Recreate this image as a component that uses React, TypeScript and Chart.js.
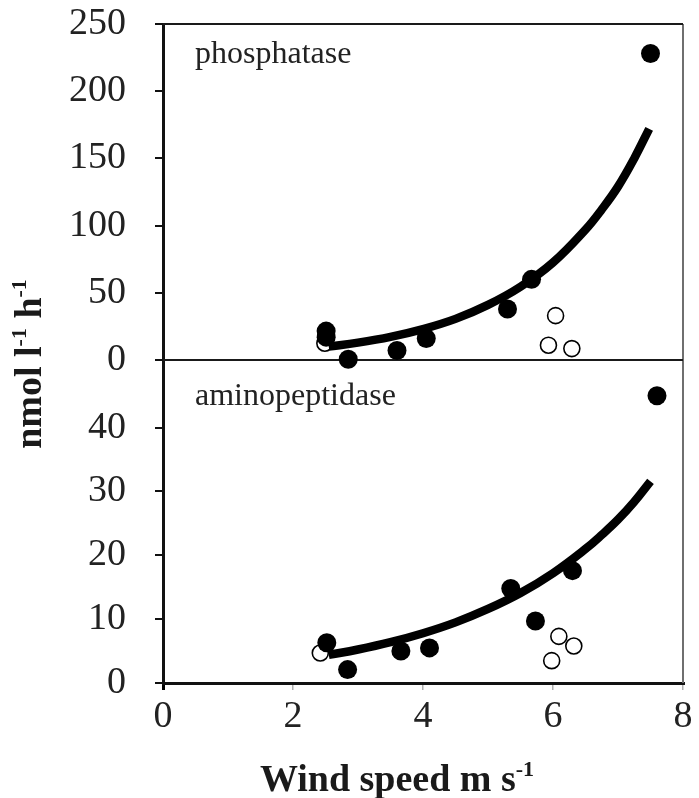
import { useEffect, useRef } from "react";
import { Chart, registerables } from "chart.js";

Chart.register(...registerables);

// ---- data ----
const xTicks = [0, 2, 4, 6, 8];
const phosTicks = [0, 50, 100, 150, 200, 250];
const aminoTicks = [0, 10, 20, 30, 40];

const phosLabel = "phosphatase";
const aminoLabel = "aminopeptidase";

const phosFilledX = [2.51, 2.51, 2.85, 3.6, 4.05, 5.3, 5.67, 7.5];
const phosFilledY = [21.5, 17, 0.5, 7, 16, 38, 60, 228];
const phosOpenX = [2.49, 5.93, 6.04, 6.29];
const phosOpenY = [12.5, 11, 33, 8.5];
const phosFitX = [2.55, 3, 3.5, 4, 4.5, 5, 5.5, 6, 6.5, 6.75, 7, 7.25, 7.48];
const phosFitY = [10, 12.9, 17.2, 23, 30.6, 41, 54.5, 72.5, 97, 112, 129, 150, 172];

const aminoFilledX = [2.52, 2.84, 3.66, 4.1, 5.35, 5.73, 6.3, 7.6];
const aminoFilledY = [6.3, 2.1, 5.0, 5.5, 14.8, 9.7, 17.6, 45];
const aminoOpenX = [2.42, 5.98, 6.09, 6.32];
const aminoOpenY = [4.7, 3.5, 7.3, 5.8];
const aminoFitX = [2.55, 3, 3.5, 4, 4.5, 5, 5.5, 6, 6.5, 6.75, 7, 7.25, 7.5];
const aminoFitY = [4.4, 5.25, 6.4, 7.8, 9.5, 11.6, 14.1, 17.2, 21, 23.2, 25.6, 28.4, 31.6];

const SERIF = '"Liberation Serif", "Times New Roman", serif';

const pts = (xs: number[], ys: number[]) => xs.map((x, i) => ({ x, y: ys[i] }));

function drawRich(
  ctx: CanvasRenderingContext2D,
  segs: [string, boolean][],
  size: number,
  supSize: number,
  supRise: number
) {
  const mainFont = `bold ${size}px ${SERIF}`;
  const supFont = `bold ${supSize}px ${SERIF}`;
  let total = 0;
  for (const [t, sup] of segs) {
    ctx.font = sup ? supFont : mainFont;
    total += ctx.measureText(t).width;
  }
  let x = -total / 2;
  for (const [t, sup] of segs) {
    ctx.font = sup ? supFont : mainFont;
    ctx.fillText(t, x, sup ? -supRise : 0);
    x += ctx.measureText(t).width;
  }
}

const decor = {
  id: "decor",
  beforeDatasetsDraw(chart: any) {
    const { ctx, chartArea } = chart;
    const { left, right, top, bottom } = chartArea;
    const mid = chart.scales.yTop.bottom;
    ctx.save();
    ctx.lineCap = "butt";
    ctx.strokeStyle = "#6f6f6f";
    ctx.lineWidth = 2;
    ctx.beginPath();
    ctx.moveTo(right, top);
    ctx.lineTo(right, bottom);
    ctx.stroke();
    ctx.strokeStyle = "#1a1a1a";
    ctx.lineWidth = 2;
    ctx.beginPath();
    ctx.moveTo(left, top);
    ctx.lineTo(right, top);
    ctx.stroke();
    ctx.beginPath();
    ctx.moveTo(left, mid);
    ctx.lineTo(right, mid);
    ctx.stroke();

    ctx.fillStyle = "#222";
    ctx.font = `32px ${SERIF}`;
    ctx.textBaseline = "alphabetic";
    ctx.textAlign = "left";
    ctx.fillText(phosLabel, left + 32, top + 39);
    ctx.fillText(aminoLabel, left + 32, mid + 45);
    ctx.restore();
  },
  afterDraw(chart: any) {
    const { ctx } = chart;
    const mid = chart.scales.yTop.bottom;
    ctx.save();
    ctx.fillStyle = "#1a1a1a";
    ctx.textBaseline = "alphabetic";
    ctx.textAlign = "left";
    // y title
    ctx.save();
    ctx.translate(41, mid + 4);
    ctx.rotate(-Math.PI / 2);
    drawRich(ctx, [["nmol l", false], ["-1", true], [" h", false], ["-1", true]], 38, 22, 15);
    ctx.restore();
    // x title
    ctx.save();
    ctx.translate(397, 791);
    drawRich(ctx, [["Wind speed m s", false], ["-1", true]], 38, 22, 15);
    ctx.restore();
    ctx.restore();
  },
};

export default function App() {
  const ref = useRef<HTMLCanvasElement>(null);
  useEffect(() => {
    document.body.style.margin = "0";
    const canvas = ref.current!;
    const tickFont = { family: SERIF, size: 38 };
    const filled = (data: any, yAxisID: string) => ({
      type: "scatter" as const,
      data,
      xAxisID: "x",
      yAxisID,
      pointRadius: 9.5,
      pointHoverRadius: 9.5,
      pointBackgroundColor: "#000",
      pointBorderColor: "#000",
      pointBorderWidth: 0,
      showLine: false,
      clip: false as const,
      order: 1,
    });
    const open = (data: any, yAxisID: string) => ({
      type: "scatter" as const,
      data,
      xAxisID: "x",
      yAxisID,
      pointRadius: 8,
      pointHoverRadius: 8,
      pointBackgroundColor: "#fff",
      pointBorderColor: "#000",
      pointBorderWidth: 1.6,
      showLine: false,
      clip: false as const,
      order: 2,
    });
    const fit = (data: any, yAxisID: string) => ({
      type: "line" as const,
      data,
      xAxisID: "x",
      yAxisID,
      borderColor: "#000",
      borderWidth: 8.5,
      pointRadius: 0,
      pointHoverRadius: 0,
      fill: false,
      tension: 0.4,
      borderCapStyle: "butt" as const,
      clip: false as const,
      order: 0,
    });
    const noPad = (s: any) => {
      s.paddingTop = 0;
      s.paddingBottom = 0;
    };

    const chart = new Chart(canvas, {
      type: "scatter",
      data: {
        datasets: [
          filled(pts(phosFilledX, phosFilledY), "yTop"),
          open(pts(phosOpenX, phosOpenY), "yTop"),
          fit(pts(phosFitX, phosFitY), "yTop"),
          filled(pts(aminoFilledX, aminoFilledY), "yBottom"),
          open(pts(aminoOpenX, aminoOpenY), "yBottom"),
          fit(pts(aminoFitX, aminoFitY), "yBottom"),
        ] as any,
      },
      options: {
        responsive: false,
        animation: false,
        devicePixelRatio: 1,
        layout: { padding: { top: 24, right: 16, bottom: 0, left: 0 } },
        plugins: { legend: { display: false }, tooltip: { enabled: false }, title: { display: false } },
        events: [],
        scales: {
          x: {
            type: "linear",
            position: "bottom",
            min: 0,
            max: 8,
            afterBuildTicks: (s: any) => {
              s.ticks = xTicks.map((v) => ({ value: v }));
            },
            afterFit: (s: any) => {
              s.height = 115;
              s.paddingLeft = 0;
              s.paddingRight = 0;
            },
            ticks: { font: tickFont, color: "#222", padding: 4, maxRotation: 0, autoSkip: false },
            grid: {
              drawOnChartArea: false,
              drawTicks: true,
              tickLength: 7,
              color: (c: any) => (c.index === 0 ? "#000" : "#b0b0b0"),
              lineWidth: (c: any) => (c.index === 0 ? 3 : 1.5),
            },
            border: { display: true, color: "#111", width: 3 },
          },
          yBottom: {
            type: "linear",
            position: "left",
            stack: "panels",
            stackWeight: 323,
            min: 0,
            max: 50.6,
            afterBuildTicks: (s: any) => {
              s.ticks = aminoTicks.map((v) => ({ value: v }));
            },
            afterFit: (s: any) => {
              s.width = 163;
              noPad(s);
            },
            ticks: { font: tickFont, color: "#222", padding: 29, autoSkip: false },
            grid: { drawOnChartArea: false, drawTicks: true, tickLength: 8, color: "#111", lineWidth: 2 },
            border: { display: true, color: "#111", width: 3 },
          },
          yTop: {
            type: "linear",
            position: "left",
            stack: "panels",
            stackWeight: 336,
            min: 0,
            max: 250,
            afterBuildTicks: (s: any) => {
              s.ticks = phosTicks.map((v) => ({ value: v }));
            },
            afterFit: (s: any) => {
              s.width = 163;
              noPad(s);
            },
            ticks: { font: tickFont, color: "#222", padding: 29, autoSkip: false },
            grid: { drawOnChartArea: false, drawTicks: true, tickLength: 8, color: "#111", lineWidth: 2 },
            border: { display: true, color: "#111", width: 3 },
          },
        },
      } as any,
      plugins: [decor],
    });
    return () => chart.destroy();
  }, []);
  return <canvas ref={ref} width={699} height={798} style={{ display: "block" }} />;
}
